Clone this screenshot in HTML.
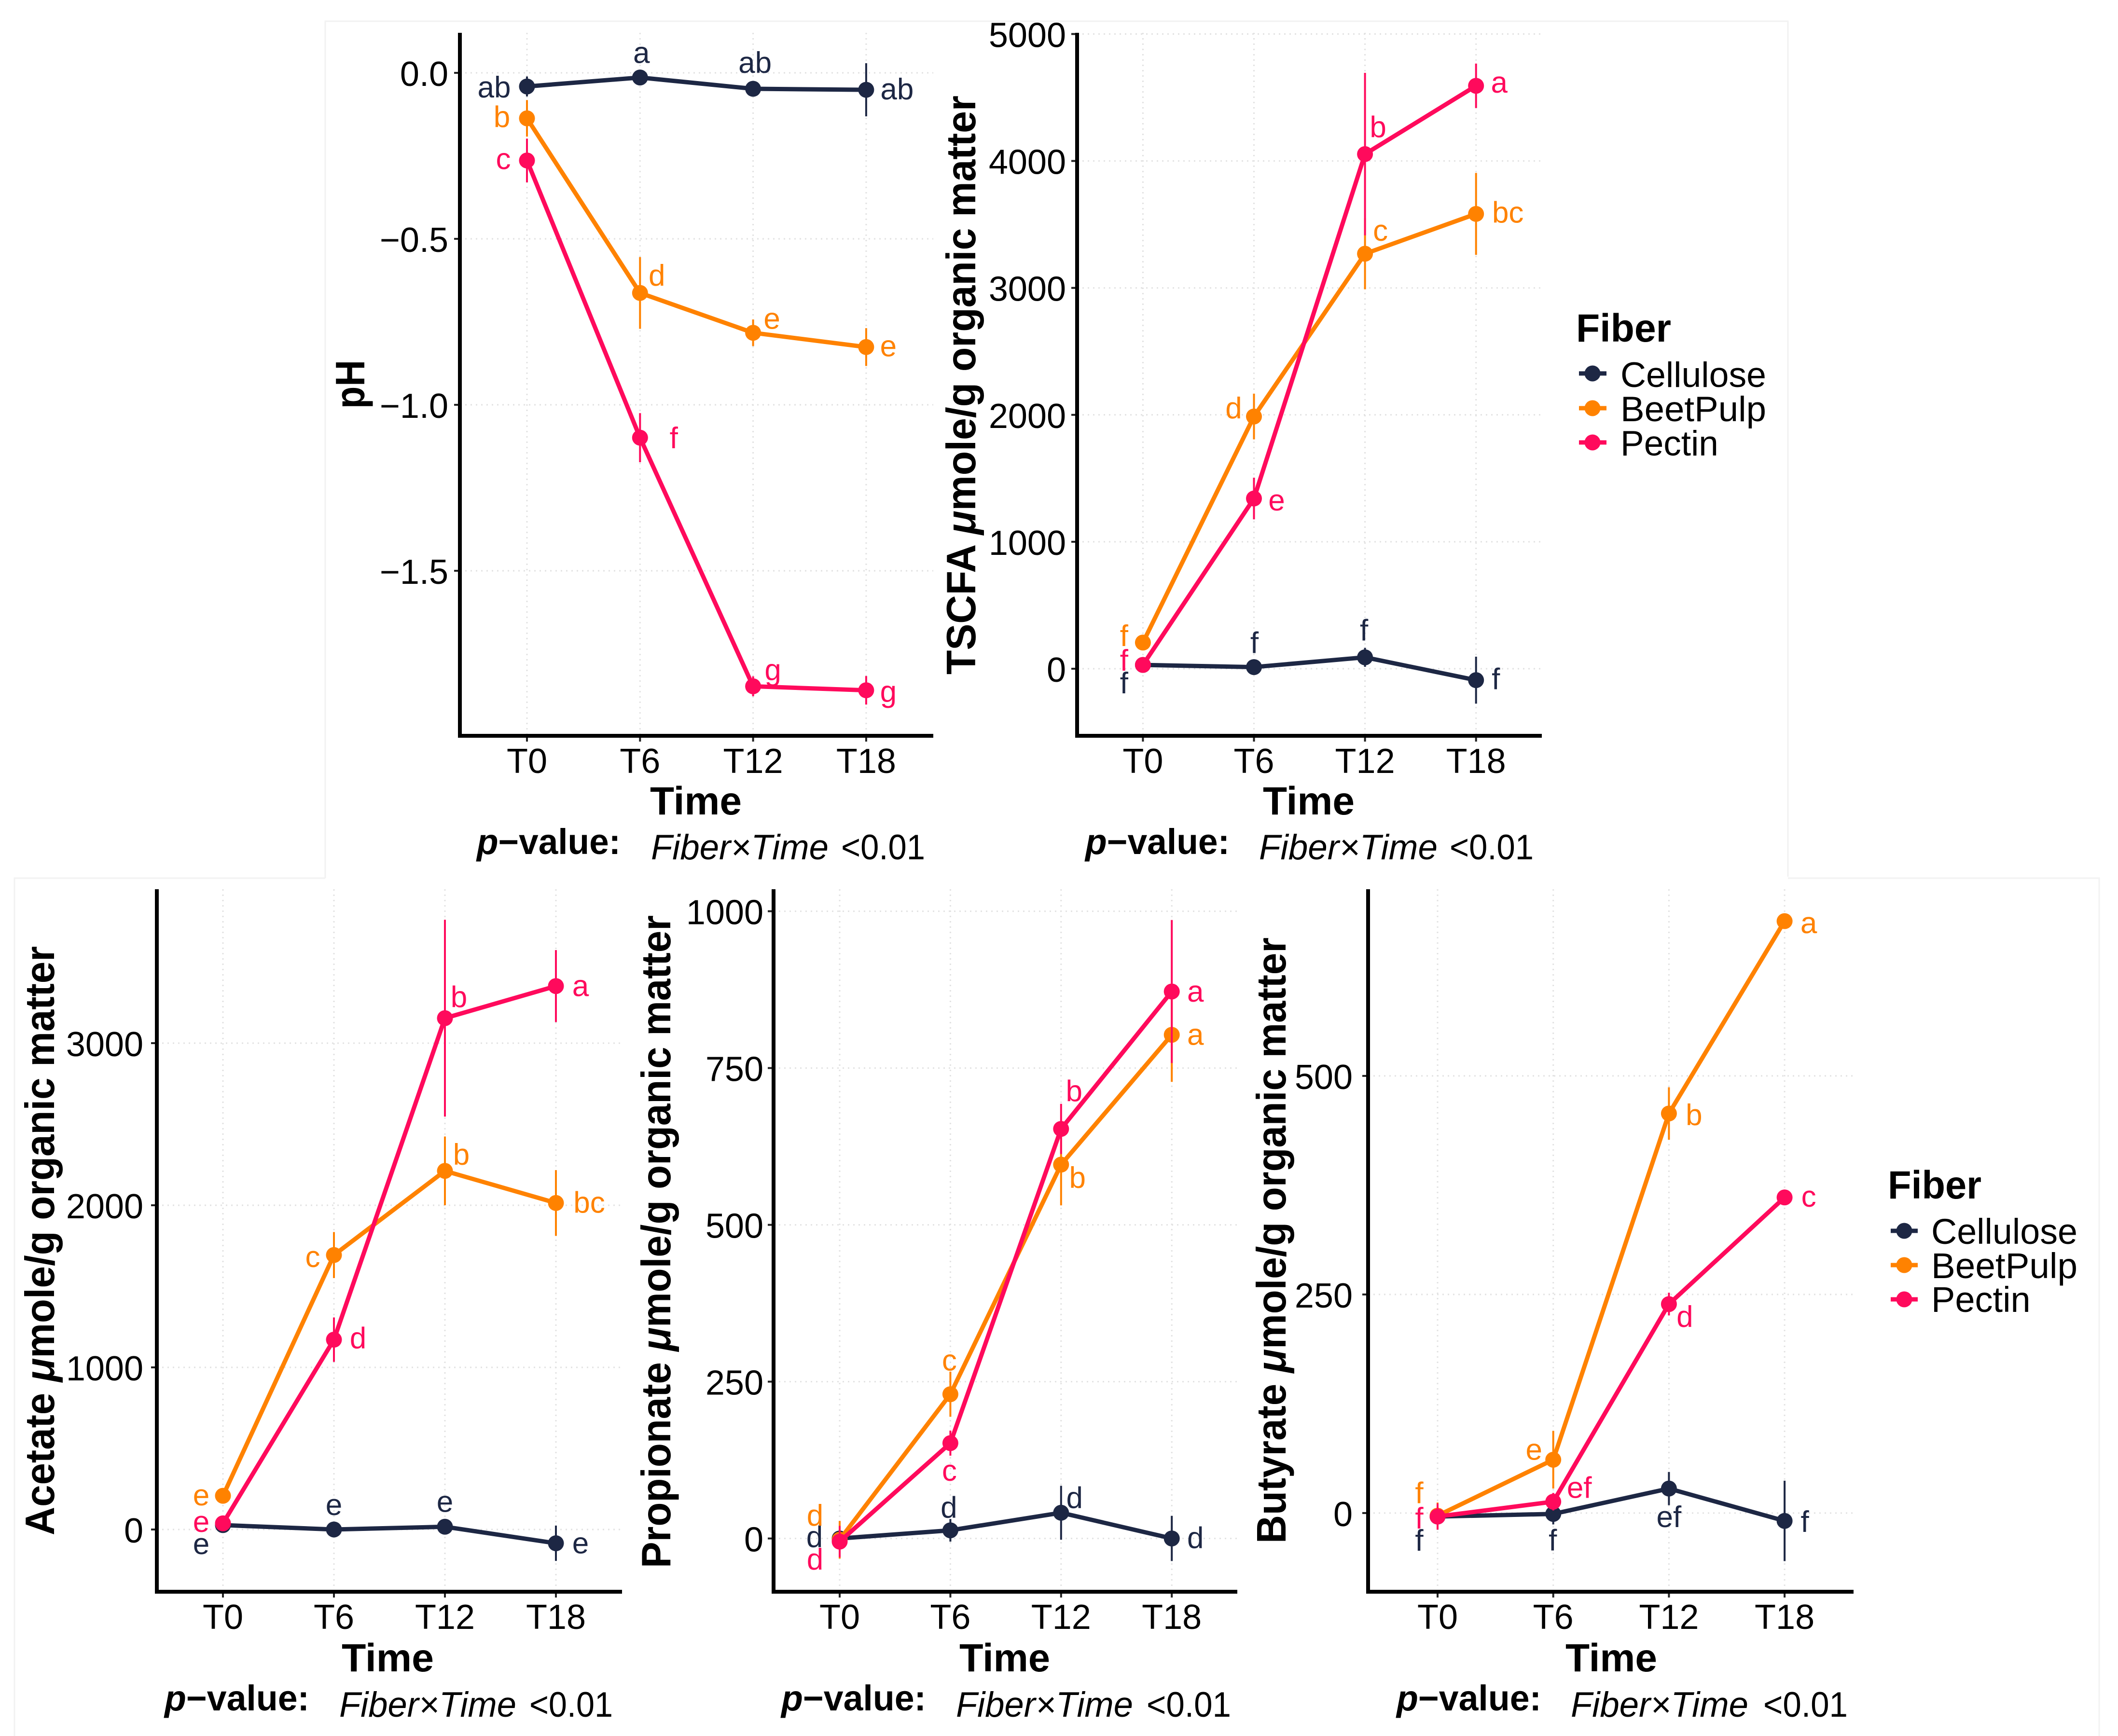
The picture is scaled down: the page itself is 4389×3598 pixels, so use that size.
<!DOCTYPE html>
<html lang="en">
<head>
<meta charset="utf-8">
<title>Fiber fermentation over time</title>
<style>
html,body{margin:0;padding:0;background:#fff;}
svg{display:block;font-family:"Liberation Sans",Arial,sans-serif;}
.t{font-weight:700;font-size:82px;fill:#000;}
.yt{font-weight:700;font-size:85px;fill:#000;}
.pv{font-weight:700;font-size:74px;fill:#000;}
.fx{font-size:73px;fill:#000;}
.li{font-size:73px;fill:#000;}
.lb{font-size:74px;fill:#000;}
</style>
</head>
<body>
<svg id="fig" xmlns="http://www.w3.org/2000/svg" width="4389" height="3598" viewBox="0 0 4389 3598">
<rect width="4389" height="3598" fill="#fff"/>
<g fill="none" stroke="#f2f2f2" stroke-width="3">
<path d="M674 1820V44H3705V1817"/>
<path d="M30 3598V1820H674M3705 1820H4350V3598"/>
</g>

<g id="charts"></g>

<g>
<text class="yt" transform="translate(755 847) rotate(-90)" textLength="101" lengthAdjust="spacingAndGlyphs">pH</text>
<text class="t" x="1347" y="1688" textLength="190" lengthAdjust="spacingAndGlyphs">Time</text>
<text class="pv" x="988" y="1770" textLength="298" lengthAdjust="spacingAndGlyphs"><tspan font-style="italic">p</tspan>−value:</text>
<text class="fx" font-style="italic" x="1349" y="1781" textLength="368" lengthAdjust="spacingAndGlyphs">Fiber×Time</text>
<text class="fx" x="1743" y="1781" textLength="174" lengthAdjust="spacingAndGlyphs">&lt;0.01</text>
</g>
<g>
<text class="yt" transform="translate(2021 1398) rotate(-90)" textLength="1200" lengthAdjust="spacingAndGlyphs">TSCFA <tspan font-style="italic">μ</tspan>mole/g organic matter</text>
<text class="t" x="2617" y="1688" textLength="190" lengthAdjust="spacingAndGlyphs">Time</text>
<text class="pv" x="2249" y="1770" textLength="299" lengthAdjust="spacingAndGlyphs"><tspan font-style="italic">p</tspan>−value:</text>
<text class="fx" font-style="italic" x="2609" y="1781" textLength="370" lengthAdjust="spacingAndGlyphs">Fiber×Time</text>
<text class="fx" x="3004" y="1781" textLength="174" lengthAdjust="spacingAndGlyphs">&lt;0.01</text>
</g>
<g>
<text class="yt" transform="translate(112 3182) rotate(-90)" textLength="1221" lengthAdjust="spacingAndGlyphs">Acetate <tspan font-style="italic">μ</tspan>mole/g organic matter</text>
<text class="t" x="708" y="3464" textLength="191" lengthAdjust="spacingAndGlyphs">Time</text>
<text class="pv" x="341" y="3545" textLength="300" lengthAdjust="spacingAndGlyphs"><tspan font-style="italic">p</tspan>−value:</text>
<text class="fx" font-style="italic" x="703" y="3558" textLength="367" lengthAdjust="spacingAndGlyphs">Fiber×Time</text>
<text class="fx" x="1097" y="3558" textLength="173" lengthAdjust="spacingAndGlyphs">&lt;0.01</text>
</g>
<g>
<text class="yt" transform="translate(1389 3250) rotate(-90)" textLength="1353" lengthAdjust="spacingAndGlyphs">Propionate <tspan font-style="italic">μ</tspan>mole/g organic matter</text>
<text class="t" x="1988" y="3464" textLength="188" lengthAdjust="spacingAndGlyphs">Time</text>
<text class="pv" x="1619" y="3545" textLength="300" lengthAdjust="spacingAndGlyphs"><tspan font-style="italic">p</tspan>−value:</text>
<text class="fx" font-style="italic" x="1981" y="3558" textLength="367" lengthAdjust="spacingAndGlyphs">Fiber×Time</text>
<text class="fx" x="2376" y="3558" textLength="175" lengthAdjust="spacingAndGlyphs">&lt;0.01</text>
</g>
<g>
<text class="yt" transform="translate(2664 3199) rotate(-90)" textLength="1256" lengthAdjust="spacingAndGlyphs">Butyrate <tspan font-style="italic">μ</tspan>mole/g organic matter</text>
<text class="t" x="3244" y="3464" textLength="190" lengthAdjust="spacingAndGlyphs">Time</text>
<text class="pv" x="2894" y="3545" textLength="300" lengthAdjust="spacingAndGlyphs"><tspan font-style="italic">p</tspan>−value:</text>
<text class="fx" font-style="italic" x="3255" y="3558" textLength="368" lengthAdjust="spacingAndGlyphs">Fiber×Time</text>
<text class="fx" x="3654" y="3558" textLength="175" lengthAdjust="spacingAndGlyphs">&lt;0.01</text>
</g>

<g>
<text class="t" x="3266" y="708" textLength="197" lengthAdjust="spacingAndGlyphs">Fiber</text>
<g><path d="M3272 774H3329" stroke="#1d2744" stroke-width="9"/><circle cx="3300" cy="774" r="16.5" fill="#1d2744"/><text class="li" x="3358" y="802" textLength="302" lengthAdjust="spacingAndGlyphs">Cellulose</text></g>
<g><path d="M3272 846H3329" stroke="#ff8200" stroke-width="9"/><circle cx="3300" cy="846" r="16.5" fill="#ff8200"/><text class="li" x="3358" y="873" textLength="302" lengthAdjust="spacingAndGlyphs">BeetPulp</text></g>
<g><path d="M3272 917H3329" stroke="#ff0a5c" stroke-width="9"/><circle cx="3300" cy="917" r="16.5" fill="#ff0a5c"/><text class="li" x="3358" y="944">Pectin</text></g>
</g>
<g>
<text class="t" x="3912" y="2484" textLength="194" lengthAdjust="spacingAndGlyphs">Fiber</text>
<g><path d="M3918 2551H3974" stroke="#1d2744" stroke-width="9"/><circle cx="3946" cy="2551" r="16.5" fill="#1d2744"/><text class="lb" x="4002" y="2578" textLength="303" lengthAdjust="spacingAndGlyphs">Cellulose</text></g>
<g><path d="M3918 2622H3974" stroke="#ff8200" stroke-width="9"/><circle cx="3946" cy="2622" r="16.5" fill="#ff8200"/><text class="lb" x="4002" y="2649" textLength="303" lengthAdjust="spacingAndGlyphs">BeetPulp</text></g>
<g><path d="M3918 2693H3974" stroke="#ff0a5c" stroke-width="9"/><circle cx="3946" cy="2693" r="16.5" fill="#ff0a5c"/><text class="lb" x="4002" y="2719">Pectin</text></g>
</g>
</svg>

<script>
// ---- shared categories ----
const timeCategories = ['T0', 'T6', 'T12', 'T18'];
const fiberNames = ['Cellulose', 'BeetPulp', 'Pectin'];

// ---- pH ----
const phTicks = [0, -0.5, -1, -1.5];
const phTickLabels = ['0.0', '−0.5', '−1.0', '−1.5'];
const phCellulose = [-0.041, -0.014, -0.048, -0.051];
const phCelluloseErr = [0.03, 0.02, 0.02, 0.08];
const phBeetPulp = [-0.137, -0.663, -0.783, -0.826];
const phBeetPulpErr = [0.055, 0.108, 0.04, 0.057];
const phPectin = [-0.264, -1.099, -1.848, -1.86];
const phPectinErr = [0.066, 0.074, 0.03, 0.043];
const phCelluloseLetters = ['ab', 'a', 'ab', 'ab'];
const phBeetPulpLetters = ['b', 'd', 'e', 'e'];
const phPectinLetters = ['c', 'f', 'g', 'g'];

// ---- TSCFA ----
const tscfaTicks = [0, 1000, 2000, 3000, 4000, 5000];
const tscfaTickLabels = ['0', '1000', '2000', '3000', '4000', '5000'];
const tscfaCellulose = [30, 13, 90, -90];
const tscfaCelluloseErr = [30, 30, 75, 185];
const tscfaBeetPulp = [206, 1987, 3269, 3583];
const tscfaBeetPulpErr = [30, 180, 280, 323];
const tscfaPectin = [30, 1341, 4054, 4592];
const tscfaPectinErr = [30, 164, 640, 175];
const tscfaCelluloseLetters = ['f', 'f', 'f', 'f'];
const tscfaBeetPulpLetters = ['f', 'd', 'c', 'bc'];
const tscfaPectinLetters = ['f', 'e', 'b', 'a'];

// ---- Acetate ----
const acetateTicks = [0, 1000, 2000, 3000];
const acetateTickLabels = ['0', '1000', '2000', '3000'];
const acetateCellulose = [27, 0, 17, -85];
const acetateCelluloseErr = [30, 20, 30, 109];
const acetateBeetPulp = [208, 1693, 2212, 2014];
const acetateBeetPulpErr = [25, 142, 212, 203];
const acetatePectin = [38, 1171, 3154, 3352];
const acetatePectinErr = [25, 137, 607, 222];
const acetateCelluloseLetters = ['e', 'e', 'e', 'e'];
const acetateBeetPulpLetters = ['e', 'c', 'b', 'bc'];
const acetatePectinLetters = ['e', 'd', 'b', 'a'];

// ---- Propionate ----
const propionateTicks = [0, 250, 500, 750, 1000];
const propionateTickLabels = ['0', '250', '500', '750', '1000'];
const propionateCellulose = [0, 13, 41, 0];
const propionateCelluloseErr = [27, 18, 43, 36];
const propionateBeetPulp = [-2, 230, 596, 803];
const propionateBeetPulpErr = [30, 36, 65, 75];
const propionatePectin = [-5, 152, 653, 872];
const propionatePectinErr = [25, 20, 40, 114];
const propionateCelluloseLetters = ['d', 'd', 'd', 'd'];
const propionateBeetPulpLetters = ['d', 'c', 'b', 'a'];
const propionatePectinLetters = ['d', 'c', 'b', 'a'];

// ---- Butyrate ----
const butyrateTicks = [0, 250, 500];
const butyrateTickLabels = ['0', '250', '500'];
const butyrateCellulose = [-4, -1, 28, -9];
const butyrateCelluloseErr = [15, 12, 19, 46];
const butyrateBeetPulp = [-3, 61, 457, 677];
const butyrateBeetPulpErr = [15, 33, 30, 5];
const butyratePectin = [-4, 13, 239, 361];
const butyratePectinErr = [15, 10, 13, 6];
const butyrateCelluloseLetters = ['f', 'f', 'ef', 'f'];
const butyrateBeetPulpLetters = ['f', 'e', 'b', 'a'];
const butyratePectinLetters = ['f', 'ef', 'd', 'c'];

const seriesColors = ['#1d2744', '#ff8200', '#ff0a5c'];

// Layout only: plot frames, axis calibration and label nudges relative to each point.
const panels = [
  {id:'ph', left:953, right:1934, top:68, bottom:1525, x0:1092, xStep:234.3, y0:151, pxPerUnit:688, tickRight:929,
   ticks:phTicks, tickLabels:phTickLabels,
   values:[phCellulose, phBeetPulp, phPectin], errs:[phCelluloseErr, phBeetPulpErr, phPectinErr],
   letters:[phCelluloseLetters, phBeetPulpLetters, phPectinLetters],
   nudges:[[[-68,5],[3,-48],[4,-51],[64,2]],[[-52,0],[35,-33],[39,-26],[46,1]],[[-49,0],[70,4],[41,-31],[46,6]]]},
  {id:'tscfa', left:2232, right:3195, top:68, bottom:1525, x0:2368.4, xStep:230.1, y0:1386, pxPerUnit:0.2631, tickRight:2209,
   ticks:tscfaTicks, tickLabels:tscfaTickLabels,
   values:[tscfaCellulose, tscfaBeetPulp, tscfaPectin], errs:[tscfaCelluloseErr, tscfaBeetPulpErr, tscfaPectinErr],
   letters:[tscfaCelluloseLetters, tscfaBeetPulpLetters, tscfaPectinLetters],
   nudges:[[[-39,41],[1,-47],[-2,-53],[41,1]],[[-39,-11],[-42,-14],[32,-45],[66,0]],[[-39,-6],[47,7],[27,-53],[48,-4]]]},
  {id:'acetate', left:325, right:1289, top:1843, bottom:3299, x0:462, xStep:230, y0:3170, pxPerUnit:0.336, tickRight:297,
   ticks:acetateTicks, tickLabels:acetateTickLabels,
   values:[acetateCellulose, acetateBeetPulp, acetatePectin], errs:[acetateCelluloseErr, acetateBeetPulpErr, acetatePectinErr],
   letters:[acetateCelluloseLetters, acetateBeetPulpLetters, acetatePectinLetters],
   nudges:[[[-45,42],[0,-48],[0,-49],[51,3]],[[-45,2],[-44,7],[34,-31],[69,2]],[[-45,0],[50,0],[29,-41],[51,3]]]},
  {id:'propionate', left:1603, right:2564, top:1843, bottom:3299, x0:1740, xStep:229.4, y0:3188.6, pxPerUnit:1.3, tickRight:1582,
   ticks:propionateTicks, tickLabels:propionateTickLabels,
   values:[propionateCellulose, propionateBeetPulp, propionatePectin], errs:[propionateCelluloseErr, propionateBeetPulpErr, propionatePectinErr],
   letters:[propionateCelluloseLetters, propionateBeetPulpLetters, propionatePectinLetters],
   nudges:[[[-52,0],[-3,-44],[28,-28],[49,2]],[[-51,-47],[-2,-67],[34,30],[49,3]],[[-51,40],[-2,60],[27,-75],[49,3]]]},
  {id:'butyrate', left:2835, right:3841, top:1843, bottom:3299, x0:2979, xStep:239.7, y0:3135.9, pxPerUnit:1.812, tickRight:2803,
   ticks:butyrateTicks, tickLabels:butyrateTickLabels,
   values:[butyrateCellulose, butyrateBeetPulp, butyratePectin], errs:[butyrateCelluloseErr, butyrateBeetPulpErr, butyratePectinErr],
   letters:[butyrateCelluloseLetters, butyrateBeetPulpLetters, butyratePectinLetters],
   nudges:[[[-38,53],[-1,58],[0,62],[42,5]],[[-38,-44],[-40,-18],[52,6],[50,7]],[[-38,7],[54,-26],[33,29],[50,1]]]}
];

const NS = 'http://www.w3.org/2000/svg';
const root = document.getElementById('charts');

function make(tag, parent, geom) {
  const node = document.createElementNS(NS, tag);
  for (const key in geom) node.setAttribute(key, geom[key]);
  parent.appendChild(node);
  return node;
}

panels.forEach(function (p) {
  const xScale = function (i) { return p.x0 + i * p.xStep; };
  const yScale = function (v) { return p.y0 - v * p.pxPerUnit; };

  const g = make('g', root, {});
  
  

  // grid
  p.ticks.forEach(function (t) {
    const el = make('line', g, {x1:p.left, x2:p.right, y1:yScale(t), y2:yScale(t), stroke:'#e2e2e2', 'stroke-width':3, 'stroke-dasharray':'3 8'});
    
    
  });
  timeCategories.forEach(function (c, i) {
    const el = make('line', g, {x1:xScale(i), x2:xScale(i), y1:p.top, y2:p.bottom, stroke:'#e2e2e2', 'stroke-width':3, 'stroke-dasharray':'3 8'});
    
    
  });

  // y ticks and labels
  p.ticks.forEach(function (t, i) {
    const tick = make('line', g, {x1:p.left - 12, x2:p.left, y1:yScale(t), y2:yScale(t), stroke:'#222', 'stroke-width':4});
    
    
    const label = make('text', g, {x:p.tickRight, y:yScale(t) + 27, 'text-anchor':'end', 'font-size':72, fill:'#000'});
    label.textContent = p.tickLabels[i];
    
    
  });

  // x ticks and labels
  timeCategories.forEach(function (c, i) {
    const tick = make('line', g, {x1:xScale(i), x2:xScale(i), y1:p.bottom, y2:p.bottom + 12, stroke:'#222', 'stroke-width':4});
    
    
    const label = make('text', g, {x:xScale(i), y:p.bottom + 77, 'text-anchor':'middle', 'font-size':72, fill:'#000'});
    label.textContent = c;
    
    
  });

  // axis lines
  const axes = make('path', g, {d:'M' + p.left + ' ' + p.top + 'V' + p.bottom + 'H' + p.right, fill:'none', stroke:'#000', 'stroke-width':8});
  
  

  // series
  p.values.forEach(function (vals, s) {
    const sg = make('g', g, {});
    
    
    const pts = vals.map(function (v, i) { return xScale(i) + ',' + yScale(v); }).join(' ');
    const line = make('polyline', sg, {points:pts, fill:'none', stroke:seriesColors[s], 'stroke-width':9, 'stroke-linejoin':'round'});
    
    
    vals.forEach(function (v, i) {
      const e = p.errs[s][i];
      const bar = make('line', sg, {x1:xScale(i), x2:xScale(i), y1:yScale(v + e), y2:yScale(v - e), stroke:seriesColors[s], 'stroke-width':4});
      
      
      const dot = make('circle', sg, {cx:xScale(i), cy:yScale(v), r:16.5, fill:seriesColors[s]});
      
      
    });
  });

  // significance letters, drawn above every series
  p.values.forEach(function (vals, s) {
    vals.forEach(function (v, i) {
      const n = p.nudges[s][i];
      const letter = make('text', g, {x:xScale(i) + n[0], y:yScale(v) + n[1] + 18, 'text-anchor':'middle', 'font-size':62, fill:seriesColors[s]});
      letter.textContent = p.letters[s][i];
      
      
    });
  });
});
</script>
</body>
</html>
